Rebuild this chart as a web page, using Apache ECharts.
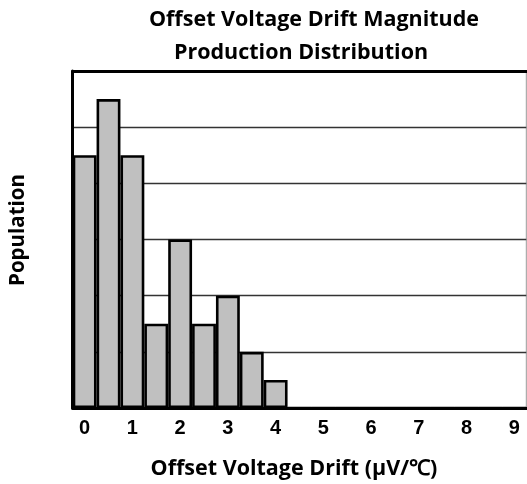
<!DOCTYPE html>
<html><head><meta charset="utf-8">
<script src="https://cdn.jsdelivr.net/npm/echarts@6/dist/echarts.min.js"></script>
<style>html,body{margin:0;padding:0;background:#fff}#c{width:527px;height:484px}</style>
</head><body><div id="c"></div>
<script>
const bins = ['0','0.5','1','1.5','2','2.5','3','3.5','4','4.5','5','5.5','6','6.5','7','7.5','8','8.5','9'];
const population = [4.5,5.5,4.5,1.5,3,1.5,2,1,0.5,0,0,0,0,0,0,0,0,0,0];
const titleLines = ['Offset Voltage Drift Magnitude','Production Distribution'];
const xName = 'Offset Voltage Drift (μV/℃)';
const yName = 'Population';

const chart = echarts.init(document.getElementById('c'));
const titleFont = 'bold 21.5px "Open Sans"';
chart.setOption({
  animation:false,
  grid:{left:72.7,right:0.7,top:71,bottom:76,show:true,borderColor:'#999',borderWidth:1,backgroundColor:'transparent'},
  xAxis:[{
    type:'category', data:bins, boundaryGap:true, position:'bottom',
    axisLine:{lineStyle:{color:'#000',width:3}},
    axisTick:{show:false},
    axisLabel:{show:true, interval:1, margin:10, color:'#000', fontFamily:'Liberation Sans', fontWeight:'bold', fontSize:20},
    splitLine:{show:false}
  },{
    type:'category', data:bins, position:'top',
    axisLine:{lineStyle:{color:'#000',width:3}},
    axisTick:{show:false}, axisLabel:{show:false}
  }],
  yAxis:{
    type:'value', min:0, max:6, interval:1,
    axisLine:{show:true,lineStyle:{color:'#000',width:3}},
    axisTick:{show:false}, axisLabel:{show:false},
    splitLine:{show:true,lineStyle:{color:'#333',width:1.3}}
  },
  series:[{
    type:'bar', xAxisIndex:0, data:population, barWidth:'100%',
    itemStyle:{color:'#c0c0c0',borderColor:'#000',borderWidth:2.6}
  }],
  graphic:[
    {type:'text', x:314, y:20, style:{text:titleLines[0], font:titleFont, fill:'#000', textAlign:'center', textVerticalAlign:'middle'}},
    {type:'text', x:301, y:53, style:{text:titleLines[1], font:titleFont, fill:'#000', textAlign:'center', textVerticalAlign:'middle'}},
    {type:'text', x:294, y:469, style:{text:xName, font:titleFont, fill:'#000', textAlign:'center', textVerticalAlign:'middle'}},
    {type:'text', x:18, y:230, rotation:Math.PI/2, style:{text:yName, font:'bold 20.5px "Open Sans"', fill:'#000', textAlign:'center', textVerticalAlign:'middle'}}
  ]
});
</script></body></html>
